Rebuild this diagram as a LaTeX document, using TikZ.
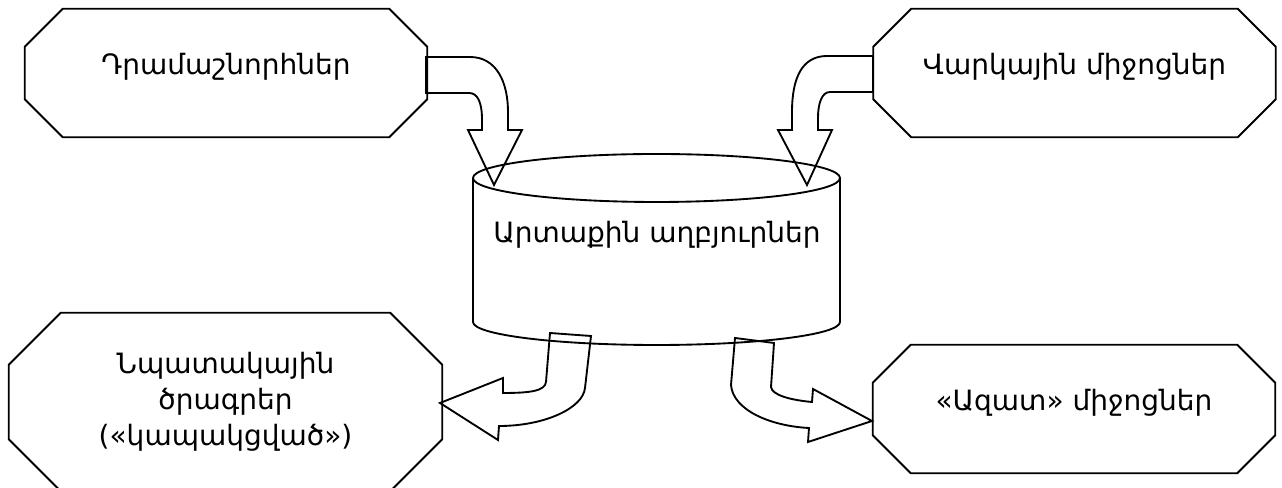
\documentclass[tikz,border=0pt]{standalone}
\usepackage{fontspec}
\newfontfamily\armfont{DejaVu Sans}
\newcommand{\octframe}[2]{%
  \draw[line_style] ([xshift=#2]#1.north west) -- ([xshift=-#2]#1.north east)
    -- ([yshift=-#2]#1.north east) -- ([yshift=#2]#1.south east)
    -- ([xshift=-#2]#1.south east) -- ([xshift=#2]#1.south west)
    -- ([yshift=#2]#1.south west) -- ([yshift=-#2]#1.north west) -- cycle;}
\begin{document}
\begin{tikzpicture}[
    x=0.75pt, y=0.75pt,
    line_style/.style={line width=1.4pt, line join=miter},
    box_style/.style={minimum width=301.5pt, minimum height=96pt, inner sep=0pt,
        align=center, font=\armfont\fontsize{21}{27}\selectfont},
    raised_style/.style={text height=15pt, text depth=13pt}
]
\useasboundingbox (0,0) rectangle (1282,488);
% Boxes
\node[box_style, raised_style] (grants) at (226,415) {Դրամաշնորհներ};
\node[box_style, raised_style] (loans) at (1074.5,415) {Վարկային միջոցներ};
\node[box_style, minimum width=324.75pt, minimum height=133.5pt] (tied) at (225.5,86)
    {Նպատակային\\ծրագրեր\\(«կապակցված»)};
\node[box_style, raised_style] (free) at (1074,79) {«Ազատ» միջոցներ};
\foreach \n in {grants,loans,free} {
    \octframe{\n}{28.5pt}
}
\octframe{tied}{39pt}
% Cylinder
\node[box_style, minimum width=275pt] (source) at (657,253) {Արտաքին աղբյուրներ};
\draw[line_style] (656.5,310) ellipse [x radius=183.5, y radius=24];
\draw[line_style] (473,310) -- (473,166)
    arc[start angle=180, end angle=360, x radius=183.5, y radius=23] -- (840,310);
% Block arrows
\draw[line_style] (426,431) -- (470,431) .. controls (497,431) and (508,405) .. (508,376)
    -- (508,358) -- (522,358) -- (494,303) -- (468,358) -- (482,358) -- (482,368)
    .. controls (482,385) and (478,395) .. (469,395) -- (426,395) -- cycle;
\draw[line_style] (873,432) -- (827,432) .. controls (802,432) and (792,410) .. (792,376)
    -- (792,358) -- (778,358) -- (807,303) -- (832,358) -- (818,358) -- (818,370)
    .. controls (818,385) and (822,396) .. (830,396) -- (873,396) -- cycle;
\draw[line_style] (550,155) -- (546,106) .. controls (545,97) and (530,95) .. (503,95)
    -- (503,110) -- (440,85) -- (498,48) -- (499,62)
    .. controls (545,62) and (583,80) .. (585,100) -- (591,152) -- cycle;
\draw[line_style] (735,150) -- (731,103) .. controls (733,78) and (770,62) .. (809,60)
    -- (808,46) -- (872,67) -- (813,99) -- (812,86)
    .. controls (790,88) and (772,93) .. (771,101) -- (774,145) -- cycle;
\end{tikzpicture}
\end{document}
